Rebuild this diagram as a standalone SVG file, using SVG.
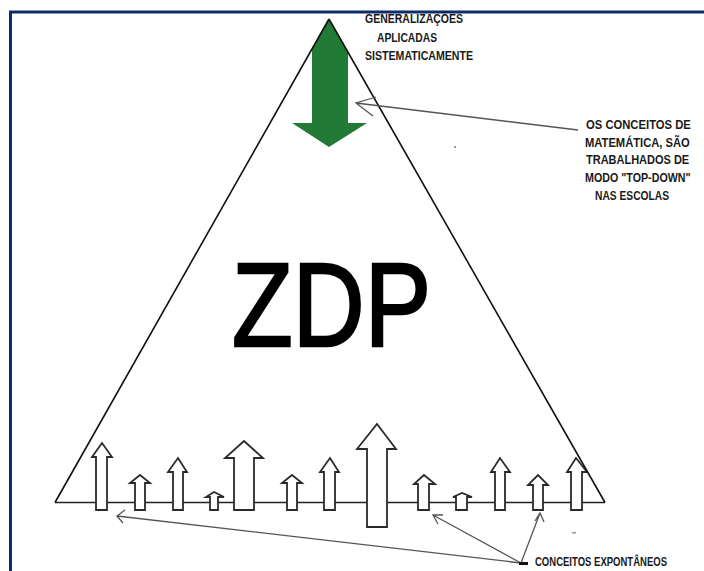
<svg xmlns="http://www.w3.org/2000/svg" width="704" height="571" viewBox="0 0 704 571">
<style>
.lbl{font-family:"Liberation Sans",Arial,sans-serif;font-weight:bold;font-size:12.5px;fill:#1a1a1a}
.arr{fill:#fff;stroke:#2a2a2a;stroke-width:1.8;stroke-linejoin:miter}
.side{stroke:#111;stroke-width:1.6;fill:none}
.con{stroke:#555;stroke-width:1.3;fill:none}
</style>
<rect width="704" height="571" fill="#fff"/>
<g id="border" stroke="#0b2d6b" stroke-width="3" fill="none">
<line x1="9" y1="12" x2="704" y2="12"/>
<line x1="10.5" y1="11" x2="10.5" y2="571"/>
</g>
<g id="base"><line x1="55" y1="502.5" x2="605" y2="502.5" stroke="#222" stroke-width="1.6"/></g>
<g id="top-down-arrow">
<polygon fill="#217a35" points="329,19 312,49 312,123 292,123 329,147 367,123 348,123 348,52"/>
</g>
<g id="spontaneous-arrows">
<polygon class="arr" points="96,510 96,457 92,457 102,443 112,457 107,457 107,510"/>
<polygon class="arr" points="135,510 135,483 130,483 140,475 150,483 145,483 145,510"/>
<polygon class="arr" points="173,510 173,472 168,472 178,458 187,472 183,472 183,510"/>
<polygon class="arr" points="210,510 210,497 206,497 214,492 224,497 218,497 218,510"/>
<polygon class="arr" points="234,510 234,458 225,458 244,441 263,458 254,458 254,510"/>
<polygon class="arr" points="287,510 287,483 282,483 292,475 302,483 297,483 297,510"/>
<polygon class="arr" points="324,510 324,472 320,472 330,458 339,472 335,472 335,510"/>
<polygon class="arr" points="367,527 367,449 357,449 377,424 396,449 387,449 387,527"/>
<polygon class="arr" points="418,510 418,484 414,484 424,475 435,484 429,484 429,510"/>
<polygon class="arr" points="456,510 456,497 453,497 462,493 472,497 467,497 467,510"/>
<polygon class="arr" points="495,510 495,472 491,472 500,458 510,472 505,472 505,510"/>
<polygon class="arr" points="533,510 533,485 528,485 538,475 548,485 543,485 543,510"/>
<polygon class="arr" points="571,510 571,472 567,472 576,458 587,472 582,472 582,510"/>
</g>
<g id="triangle">
<line class="side" x1="55" y1="502.5" x2="329" y2="19"/>
<line class="side" x1="329" y1="19" x2="605" y2="502.5"/>
</g>
<g id="connectors">
<path class="con" d="M578,130 L356,103 M376,97 L356,103 L373,116"/>
<path class="con" d="M521,563 L117,516 M125,510 L117,516 L123,523"/>
<path class="con" d="M521,563 L433,515 M443,515 L433,515 L438,524"/>
<path class="con" d="M521,563 L540,513 M535,521 L540,513 L544,522"/>
<rect x="519" y="562" width="9" height="3" fill="#111"/>
<rect x="454" y="146" width="2" height="2" fill="#999"/>
<rect x="572" y="532" width="4" height="1.5" fill="#999"/>
</g>
<g id="zdp">
<text x="232" y="346" font-family="'Liberation Sans',Arial,sans-serif" font-size="118" fill="#000" stroke="#000" stroke-width="2.5" textLength="199" lengthAdjust="spacingAndGlyphs">ZDP</text>
</g>
<g id="label-top">
<text class="lbl" transform="translate(365,23) scale(0.8,1)" textLength="122.5" lengthAdjust="spacingAndGlyphs">GENERALIZAÇÕES</text>
<text class="lbl" transform="translate(377,42) scale(0.8,1)" textLength="75" lengthAdjust="spacingAndGlyphs">APLICADAS</text>
<text class="lbl" transform="translate(365,60) scale(0.8,1)" textLength="135" lengthAdjust="spacingAndGlyphs">SISTEMATICAMENTE</text>
</g>
<g id="label-right">
<text class="lbl" transform="translate(586,129) scale(0.8,1)" textLength="131" lengthAdjust="spacingAndGlyphs">OS CONCEITOS DE</text>
<text class="lbl" transform="translate(585,147) scale(0.8,1)" textLength="131" lengthAdjust="spacingAndGlyphs">MATEMÁTICA, SÃO</text>
<text class="lbl" transform="translate(586,164) scale(0.8,1)" textLength="129" lengthAdjust="spacingAndGlyphs">TRABALHADOS DE</text>
<text class="lbl" transform="translate(585,182) scale(0.8,1)" textLength="132" lengthAdjust="spacingAndGlyphs">MODO "TOP-DOWN"</text>
<text class="lbl" transform="translate(595,200) scale(0.8,1)" textLength="92.5" lengthAdjust="spacingAndGlyphs">NAS ESCOLAS</text>
</g>
<g id="label-bottom">
<text class="lbl" transform="translate(535,566) scale(0.76,1)" textLength="173.7" lengthAdjust="spacingAndGlyphs">CONCEITOS EXPONTÂNEOS</text>
</g>
</svg>
